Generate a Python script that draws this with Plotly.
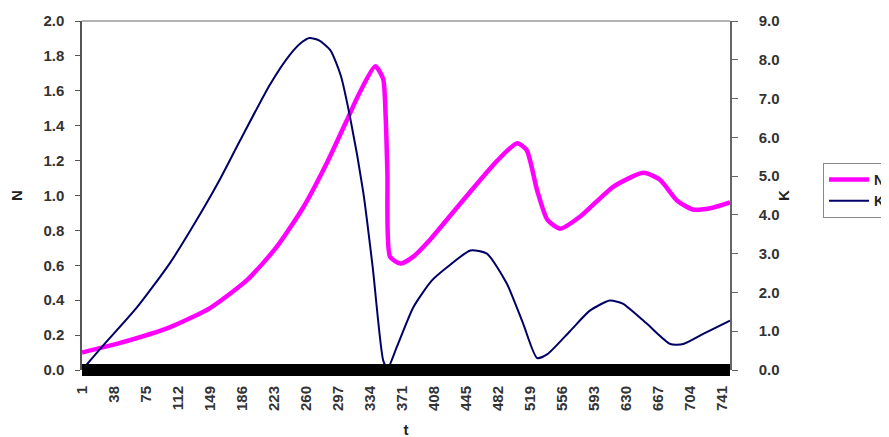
import plotly.graph_objects as go

# t values (category index) and readings of N (left axis)
t_N = [1, 45, 103, 149, 192, 226, 257, 284, 307, 322, 340, 349, 352, 354, 357,
       369, 384, 403, 441, 481, 504, 515, 527, 539, 554, 577, 615, 650, 669, 689, 707, 730, 750]
N = [0.10, 0.155, 0.246, 0.355, 0.516, 0.705, 0.934, 1.186, 1.43, 1.59, 1.74, 1.67,
     1.45, 1.13, 0.65, 0.61, 0.65, 0.745, 0.97, 1.20, 1.30, 1.26, 1.03, 0.86, 0.81, 0.88, 1.05,
     1.13, 1.09, 0.97, 0.92, 0.93, 0.96]

# t values and readings of K (right axis)
t_K = [1, 25, 64, 103, 141, 160, 184, 218, 241, 255, 264, 275, 288, 300, 311, 326, 337, 349,
       354, 365, 384, 405, 423, 450, 469, 492, 511, 527, 539, 565, 588, 611, 626, 654, 681,
       696, 719, 750]
K = [0.0, 0.62, 1.6, 2.77, 4.15, 4.9, 5.93, 7.35, 8.12, 8.45, 8.56, 8.5, 8.25, 7.6, 6.5, 4.6,
     2.65, 0.26, 0.03, 0.6, 1.62, 2.3, 2.65, 3.08, 3.0, 2.23, 1.19, 0.31, 0.41, 1.0, 1.53, 1.79,
     1.71, 1.19, 0.67, 0.67, 0.93, 1.27]

x_ticks = [1, 38, 75, 112, 149, 186, 223, 260, 297, 334, 371, 408, 445, 482, 519, 556, 593,
           630, 667, 704, 741]

FAM = "Liberation Sans, Arial, sans-serif"
fnt = dict(family=FAM, size=15, color="#333333", weight="bold")
tfnt = dict(family=FAM, size=15, color="#222222", weight="bold")

fig = go.Figure()
fig.add_trace(go.Scatter(x=t_N, y=N, name="N", mode="lines",
                         line=dict(color="#ff00ff", width=4.5, shape="spline", smoothing=0.6)))
fig.add_trace(go.Scatter(x=t_K, y=K, name="K", mode="lines", yaxis="y2",
                         line=dict(color="#000066", width=2, shape="spline", smoothing=0.6)))

fig.update_layout(
    width=889, height=437,
    margin=dict(l=74, r=167, t=13, b=75),
    paper_bgcolor="white", plot_bgcolor="white",
    font=fnt,
    showlegend=True,
    legend=dict(xref="container", yref="container", x=0.9168, y=0.6453,
                xanchor="left", yanchor="top",
                bgcolor="white", bordercolor="#888888", borderwidth=1,
                font=dict(family=FAM, size=14, color="#222222"),
                itemwidth=40, tracegroupgap=0),
    xaxis=dict(range=[1, 750], tickmode="array", tickvals=x_ticks,
               ticktext=[str(v) for v in x_ticks], tickangle=-90, tickfont=fnt,
               showgrid=False, zeroline=False, showline=False, ticks="",
               ticklabelstandoff=12, automargin=False,
               title=dict(text="t", font=tfnt, standoff=14)),
    yaxis=dict(range=[0, 2], dtick=0.2, tickformat=".1f", tickfont=fnt, automargin=False,
               showgrid=False, zeroline=False, showline=True, linecolor="#555555", linewidth=1.5,
               ticks="outside", ticklen=5, tickcolor="#555555", ticklabelstandoff=8,
               title=dict(text="N", font=tfnt, standoff=20)),
    yaxis2=dict(range=[0, 9], dtick=1, tickformat=".1f", tickfont=fnt, overlaying="y",
                side="right", showgrid=False, zeroline=False, showline=True, automargin=False,
                linecolor="#666666", linewidth=1.5, ticks="outside", ticklen=6,
                tickcolor="#666666", ticklabelstandoff=18,
                title=dict(text="K", font=tfnt, standoff=0)),
    shapes=[
        dict(type="line", xref="paper", yref="paper", x0=0, x1=1, y0=1, y1=1,
             line=dict(color="#999999", width=1.5)),
        dict(type="line", xref="paper", yref="paper", x0=0, x1=1, y0=0, y1=0,
             line=dict(color="black", width=12), layer="above"),
    ],
)

fig.write_html("out.html")
